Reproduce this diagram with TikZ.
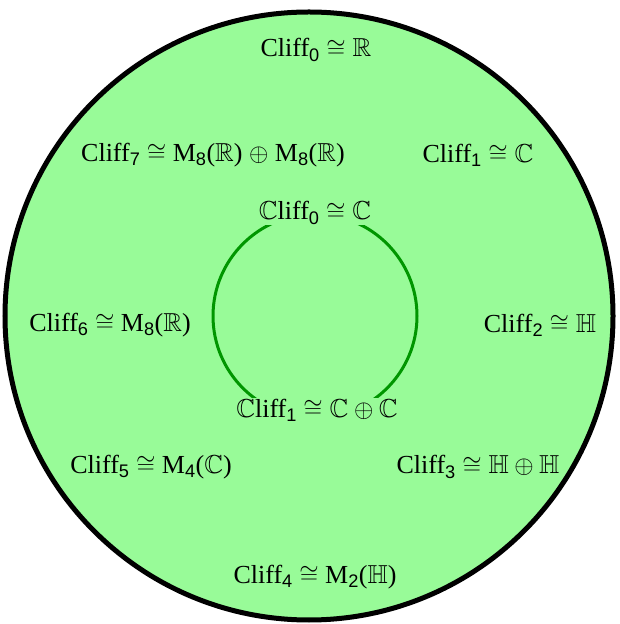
\documentclass[tikz,border=0pt]{standalone}
\usepackage{amssymb}
\usepackage{fontspec}
\setmainfont{Liberation Serif}
\setsansfont{Liberation Sans}
\definecolor{palegreen}{RGB}{152,251,152}
\definecolor{ringgreen}{RGB}{0,150,0}
\newcommand{\cl}[1]{Cliff\textsubscript{\sffamily #1}}
\newcommand{\ccl}[1]{$\mathbb{C}$liff\textsubscript{\sffamily #1}}
\newcommand{\mat}[1]{M\textsubscript{\sffamily #1}}
\begin{document}
\begin{tikzpicture}[
    x=1pt, y=1pt,
    font=\fontsize{26}{30}\selectfont,
    alg/.style={
        inner sep=1pt
    },
    calg/.style={
        fill=palegreen,
        inner sep=1pt
    }
]
\useasboundingbox (0,0) rectangle (619,624);

\draw[line width=5pt, fill=palegreen] (309,308) circle (304);
\draw[line width=3pt, ringgreen] (315,308) circle (102);

\node[alg] (cliff0) at (316,574) {\cl{0} $\cong \mathbb{R}$};
\node[alg] (cliff1) at (478,469) {\cl{1} $\cong \mathbb{C}$};
\node[alg] (cliff2) at (540,299) {\cl{2} $\cong \mathbb{H}$};
\node[alg] (cliff3) at (478,157) {\cl{3} $\cong \mathbb{H} \oplus \mathbb{H}$};
\node[alg] (cliff4) at (315,47) {\cl{4} $\cong$ \mat{2}($\mathbb{H}$)};
\node[alg] (cliff5) at (151,157) {\cl{5} $\cong$ \mat{4}($\mathbb{C}$)};
\node[alg] (cliff6) at (110,299) {\cl{6} $\cong$ \mat{8}($\mathbb{R}$)};
\node[alg] (cliff7) at (213,469) {\cl{7} $\cong$ \mat{8}($\mathbb{R}$) $\oplus$ \mat{8}($\mathbb{R}$)};

\node[calg] (ccliff0) at (315,411) {\ccl{0} $\cong \mathbb{C}$};
\node[calg] (ccliff1) at (317,214) {\ccl{1} $\cong \mathbb{C} \oplus \mathbb{C}$};

\end{tikzpicture}
\end{document}
